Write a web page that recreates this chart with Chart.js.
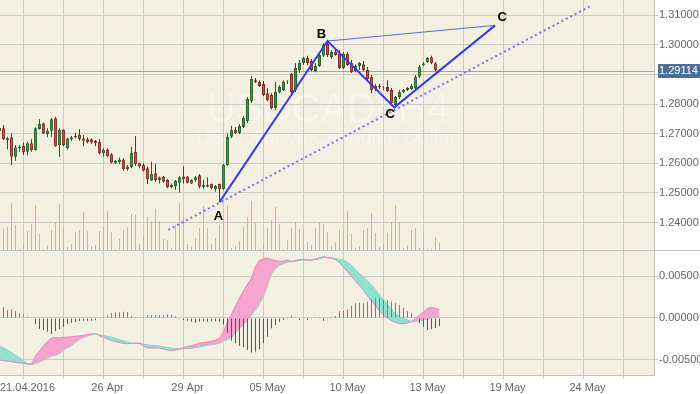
<!DOCTYPE html>
<html lang="en">
<head>
  <meta charset="UTF-8" />
  <title>USDCAD, H4</title>
  <style>
    body { margin: 0; background-color: #ffffff; }
    #wrap { width: 700px; height: 394px; }
  </style>
  <script src="https://cdn.jsdelivr.net/npm/chart.js"></script>
</head>
<body>
  <div id="wrap"><canvas id="chart" width="700" height="394"></canvas></div>

  <script>
    // H4 candles, one per index
    const open = [1.2719,1.2718,1.2679,1.2688,1.2622,1.2652,1.2659,1.2639,1.2668,1.2645,
      1.2716,1.2735,1.2699,1.2710,1.2752,1.2662,1.2713,1.2651,1.2681,1.2688,
      1.2696,1.2684,1.2681,1.2681,1.2676,1.2673,1.2634,1.2647,1.2631,1.2600,
      1.2604,1.2613,1.2580,1.2587,1.2639,1.2600,1.2594,1.2583,1.2541,1.2566,
      1.2544,1.2555,1.2544,1.2519,1.2523,1.2534,1.2555,1.2555,1.2532,1.2544,
      1.2560,1.2519,1.2521,1.2530,1.2512,1.2530,1.2512,1.2594,1.2690,1.2713,
      1.2702,1.2723,1.2743,1.2810,1.2881,1.2875,1.2868,1.2837,1.2831,1.2787,
      1.2841,1.2848,1.2875,1.2902,1.2848,1.2915,1.2939,1.2956,1.2946,1.2912,
      1.2929,1.2963,1.3003,1.2959,1.2976,1.2969,1.2922,1.2969,1.2939,1.2912,
      1.2929,1.2935,1.2915,1.2892,1.2851,1.2861,1.2854,1.2858,1.2848,1.2797,
      1.2824,1.2841,1.2848,1.2851,1.2854,1.2892,1.2932,1.2941,1.2958,1.2938,
      1.2915];
    const high = [1.2729,1.2729,1.2690,1.2701,1.2662,1.2662,1.2670,1.2673,1.2681,1.2722,
      1.2750,1.2737,1.2718,1.2753,1.2757,1.2718,1.2715,1.2686,1.2692,1.2703,
      1.2715,1.2696,1.2688,1.2684,1.2679,1.2681,1.2651,1.2651,1.2634,1.2611,
      1.2620,1.2617,1.2594,1.2656,1.2692,1.2602,1.2600,1.2589,1.2605,1.2598,
      1.2555,1.2557,1.2546,1.2532,1.2544,1.2557,1.2589,1.2557,1.2546,1.2557,
      1.2564,1.2544,1.2553,1.2532,1.2527,1.2532,1.2598,1.2701,1.2726,1.2723,
      1.2733,1.2760,1.2824,1.2895,1.2888,1.2881,1.2878,1.2854,1.2837,1.2875,
      1.2864,1.2881,1.2881,1.2905,1.2939,1.2949,1.2959,1.2963,1.2952,1.2939,
      1.2973,1.3006,1.3013,1.2983,1.2983,1.2983,1.2976,1.2976,1.2949,1.2935,
      1.2942,1.2946,1.2925,1.2898,1.2868,1.2868,1.2861,1.2881,1.2854,1.2827,
      1.2848,1.2851,1.2858,1.2868,1.2898,1.2932,1.2942,1.2959,1.2963,1.2942,
      1.2919];
    const low = [1.2709,1.2679,1.2647,1.2594,1.2609,1.2639,1.2628,1.2626,1.2639,1.2643,
      1.2714,1.2699,1.2688,1.2690,1.2656,1.2622,1.2658,1.2647,1.2676,1.2684,
      1.2676,1.2658,1.2668,1.2665,1.2658,1.2630,1.2622,1.2622,1.2600,1.2598,
      1.2598,1.2575,1.2575,1.2583,1.2591,1.2583,1.2572,1.2530,1.2541,1.2538,
      1.2532,1.2534,1.2516,1.2516,1.2510,1.2501,1.2532,1.2532,1.2530,1.2538,
      1.2516,1.2512,1.2519,1.2512,1.2504,1.2469,1.2510,1.2591,1.2685,1.2699,
      1.2699,1.2719,1.2736,1.2804,1.2871,1.2858,1.2827,1.2810,1.2783,1.2780,
      1.2837,1.2844,1.2868,1.2837,1.2841,1.2905,1.2932,1.2932,1.2912,1.2908,
      1.2925,1.2959,1.2959,1.2952,1.2963,1.2919,1.2919,1.2929,1.2905,1.2908,
      1.2915,1.2912,1.2881,1.2837,1.2844,1.2851,1.2848,1.2841,1.2800,1.2787,
      1.2817,1.2837,1.2844,1.2848,1.2851,1.2888,1.2929,1.2939,1.2935,1.2912,
      1.2908];
    const close = [1.2709,1.2681,1.2685,1.2622,1.2654,1.2656,1.2637,1.2668,1.2645,1.2718,
      1.2733,1.2701,1.2710,1.2749,1.2658,1.2713,1.2662,1.2684,1.2688,1.2692,
      1.2681,1.2676,1.2671,1.2671,1.2668,1.2634,1.2645,1.2625,1.2602,1.2609,
      1.2613,1.2581,1.2589,1.2636,1.2597,1.2589,1.2575,1.2546,1.2564,1.2544,
      1.2553,1.2538,1.2519,1.2527,1.2540,1.2553,1.2546,1.2534,1.2544,1.2553,
      1.2521,1.2527,1.2527,1.2516,1.2523,1.2512,1.2594,1.2690,1.2713,1.2702,
      1.2726,1.2753,1.2817,1.2885,1.2875,1.2861,1.2831,1.2814,1.2787,1.2841,
      1.2858,1.2875,1.2876,1.2841,1.2922,1.2939,1.2956,1.2939,1.2915,1.2929,
      1.2966,1.3000,1.2966,1.2976,1.2966,1.2922,1.2969,1.2932,1.2908,1.2929,
      1.2939,1.2915,1.2885,1.2848,1.2861,1.2858,1.2856,1.2844,1.2804,1.2824,
      1.2841,1.2848,1.2854,1.2861,1.2892,1.2925,1.2937,1.2956,1.2938,1.2915,
      1.29114];
    const volume = [20,22,23,47,25,1,6,19,26,45,16,1,5,20,27,46,22,3,6,18,
      20,38,19,4,5,19,23,39,18,1,11,20,23,36,35,6,15,33,29,41,
      29,11,10,2,25,47,33,6,3,12,22,44,22,6,12,25,32,44,2,4,
      9,23,33,49,27,1,6,22,30,43,26,1,10,22,28,21,21,8,5,22,
      27,26,18,4,8,20,20,39,16,2,4,20,22,37,17,3,6,17,28,45,
      28,2,5,20,22,2,17,1,1,13,7];

    // lower pane
    const macdHist = [0.00131,0.00127,0.00095,0.00104,0.00083,0.00056,0.00044,0.00015,0.00004,-0.00071,
      -0.00131,-0.00143,-0.00163,-0.00190,-0.00155,-0.00135,-0.00104,-0.00071,-0.00056,-0.00044,
      -0.00036,-0.00032,-0.00032,-0.00032,-0.00024,-0.00004,0.00015,0.00032,0.00060,0.00068,
      0.00068,0.00075,0.00071,0.00024,0.00012,0.00008,0.00004,0.00036,0.00036,0.00036,
      0.00036,0.00036,0.00044,0.00036,0.00020,-0.00004,-0.00024,-0.00032,-0.00044,-0.00056,
      -0.00044,-0.00039,-0.00044,-0.00039,-0.00039,-0.00044,-0.00077,-0.00175,-0.00270,-0.00301,
      -0.00333,-0.00349,-0.00381,-0.00413,-0.00401,-0.00373,-0.00301,-0.00223,-0.00123,-0.00083,
      -0.00044,-0.00020,-0.00008,0.00027,0.00004,-0.00024,-0.00004,-0.00024,-0.00004,0.00004,
      -0.00004,-0.00032,-0.00004,0.00004,0.00024,0.00080,0.00083,0.00104,0.00143,0.00175,
      0.00182,0.00175,0.00194,0.00223,0.00235,0.00235,0.00214,0.00214,0.00194,0.00175,
      0.00155,0.00123,0.00083,0.00056,0.00004,-0.00063,-0.00104,-0.00143,-0.00135,-0.00119,
      -0.00095];
    const macdFast = [-0.00500,-0.00506,-0.00514,-0.00521,-0.00529,-0.00536,-0.00539,-0.00548,-0.00551,-0.00452,
      -0.00393,-0.00333,-0.00280,-0.00238,-0.00232,-0.00238,-0.00232,-0.00226,-0.00223,-0.00218,
      -0.00214,-0.00206,-0.00196,-0.00190,-0.00185,-0.00212,-0.00230,-0.00250,-0.00268,-0.00282,
      -0.00295,-0.00302,-0.00307,-0.00304,-0.00298,-0.00301,-0.00333,-0.00357,-0.00357,-0.00357,
      -0.00357,-0.00369,-0.00381,-0.00387,-0.00381,-0.00369,-0.00351,-0.00339,-0.00330,-0.00315,
      -0.00300,-0.00293,-0.00286,-0.00277,-0.00262,-0.00242,-0.00167,-0.00048,0.00042,0.00143,
      0.00238,0.00321,0.00405,0.00476,0.00613,0.00685,0.00702,0.00711,0.00696,0.00685,
      0.00673,0.00679,0.00690,0.00673,0.00685,0.00696,0.00696,0.00690,0.00690,0.00702,
      0.00720,0.00730,0.00720,0.00711,0.00696,0.00661,0.00607,0.00554,0.00494,0.00440,
      0.00387,0.00327,0.00262,0.00202,0.00143,0.00083,0.00036,0.00000,-0.00033,-0.00054,
      -0.00065,-0.00071,-0.00060,-0.00045,-0.00006,0.00032,0.00071,0.00113,0.00127,0.00113,
      0.00101];
    const macdSlow = [-0.00339,-0.00357,-0.00385,-0.00411,-0.00446,-0.00474,-0.00512,-0.00542,-0.00554,-0.00542,
      -0.00524,-0.00500,-0.00476,-0.00452,-0.00440,-0.00420,-0.00381,-0.00351,-0.00327,-0.00286,
      -0.00254,-0.00232,-0.00211,-0.00199,-0.00188,-0.00202,-0.00211,-0.00220,-0.00231,-0.00245,
      -0.00260,-0.00274,-0.00289,-0.00300,-0.00304,-0.00301,-0.00312,-0.00321,-0.00327,-0.00330,
      -0.00333,-0.00342,-0.00351,-0.00360,-0.00364,-0.00369,-0.00367,-0.00365,-0.00362,-0.00352,
      -0.00343,-0.00333,-0.00325,-0.00318,-0.00310,-0.00300,-0.00274,-0.00250,-0.00232,-0.00179,
      -0.00125,-0.00077,-0.00024,0.00030,0.00095,0.00173,0.00262,0.00387,0.00530,0.00589,
      0.00627,0.00649,0.00667,0.00670,0.00679,0.00688,0.00690,0.00690,0.00690,0.00696,
      0.00708,0.00720,0.00720,0.00714,0.00708,0.00699,0.00690,0.00663,0.00625,0.00577,
      0.00530,0.00488,0.00440,0.00393,0.00333,0.00274,0.00214,0.00161,0.00101,0.00054,
      0.00018,-0.00004,-0.00024,-0.00042,-0.00038,-0.00033,-0.00024,-0.00012,0.00000,0.00010,
      0.00014];

    // axis ticks
    const dayTicks = [6,16,26,36,46,56,66,76,86,96,106,116,126,136,146,156];
    const dayLabels = ['21.04.2016','','26 Apr','','29 Apr','','05 May','','10 May','','13 May','','19 May','','24 May',''];
    const priceTicks = [1.24,1.25,1.26,1.27,1.28,1.29,1.30,1.31];
    const macdTicks = [-0.005,0,0.005];

    // drawn pattern A-B-C-C and the trend line under it
    const patternNames = ['A','B','C','C'];
    const patternX = [55, 82, 98.7, 123.9];
    const patternY = [1.2469, 1.3013, 1.2789, 1.3066];
    const trendX = [42.2, 147.7];
    const trendY = [1.2375, 1.3131];

    const symbolName = 'USDCAD, H4';
    const symbolDesc = 'US Dollar vs Canadian Dollar';
    const lastPrice = close[close.length - 1];

    const FONT = '"Liberation Sans", Arial, sans-serif';
    const upFill = '#3f9c45', upEdge = '#1d5e22';
    const downFill = '#d4574c', downEdge = '#7d2019';
    const gridColor = '#cbcbc8';
    const labelOffsets = [[-1, 14], [-6, -7], [-4, 7], [7, -8]];

    const isUp = i => close[i] >= open[i];
    const pts = arr => arr.map((v, i) => ({ x: i, y: v }));

    function noPad(scale) {
      scale.paddingTop = 0; scale.paddingBottom = 0;
      scale.paddingLeft = 0; scale.paddingRight = 0;
    }

    const decor = {
      id: 'decor',
      beforeDraw(chart) {
        const { ctx, chartArea: a } = chart;
        ctx.save();
        ctx.fillStyle = '#f3f0e1';
        ctx.fillRect(a.left, a.top, a.right - a.left, a.bottom - a.top);
        ctx.fillStyle = 'rgba(255,255,255,0.38)';
        ctx.textAlign = 'center';
        ctx.textBaseline = 'alphabetic';
        ctx.font = '40px "Liberation Sans", Arial, sans-serif';
        ctx.fillText(symbolName, 328, 122);
        ctx.font = '20px "Liberation Sans", Arial, sans-serif';
        ctx.fillText(symbolDesc, 326, 144);
        ctx.restore();
      },
      beforeDatasetsDraw(chart) {
        const { ctx, chartArea: a, scales } = chart;
        const y = Math.round(scales.y.getPixelForValue(lastPrice)) + 0.5;
        ctx.save();
        ctx.strokeStyle = '#9aa6b4';
        ctx.lineWidth = 1;
        ctx.beginPath();
        ctx.moveTo(a.left, y); ctx.lineTo(a.right, y);
        ctx.stroke();
        ctx.restore();
      },
      afterDraw(chart) {
        const { ctx, scales } = chart;
        ctx.save();
        // pane separator
        const sep = Math.round(scales.m.top) + 0.5;
        ctx.strokeStyle = '#c4c4c4';
        ctx.lineWidth = 1;
        ctx.beginPath();
        ctx.moveTo(0, sep); ctx.lineTo(chart.width, sep);
        ctx.stroke();

        // current price tag
        const py = Math.round(scales.y.getPixelForValue(lastPrice));
        ctx.fillStyle = '#4a7099';
        ctx.fillRect(scales.y.left + 4, py - 7, chart.width - scales.y.left - 4, 14);
        ctx.fillStyle = '#ffffff';
        ctx.font = '11px ' + FONT;
        ctx.textAlign = 'left';
        ctx.textBaseline = 'middle';
        ctx.fillText(lastPrice.toFixed(5), scales.y.left + 5, py);

        // pattern point names
        ctx.fillStyle = '#000000';
        ctx.font = 'bold 13px "Liberation Sans", Arial, sans-serif';
        ctx.textAlign = 'center';
        patternNames.forEach((name, i) => {
          const x = scales.x.getPixelForValue(patternX[i]) + labelOffsets[i][0];
          const y = scales.y.getPixelForValue(patternY[i]) + labelOffsets[i][1];
          ctx.fillText(name, x, y);
        });
        ctx.restore();
      }
    };

    const ctx = document.getElementById('chart').getContext('2d');
    const chart = new Chart(ctx, {
      type: 'line',
      data: {
        datasets: [
          {
            label: 'MACD fast', data: pts(macdFast), yAxisID: 'm',
            borderColor: '#ef7fbf', borderWidth: 1, pointRadius: 0,
            fill: { target: 1, above: '#f4a4cd', below: '#8fe2cb' }, order: 5
          },
          {
            label: 'MACD slow', data: pts(macdSlow), yAxisID: 'm',
            borderColor: '#5fd6bd', borderWidth: 1, pointRadius: 0, fill: false, order: 6
          },
          {
            type: 'bar', label: 'Histogram', data: pts(macdHist), yAxisID: 'm',
            grouped: false, maxBarThickness: 1, inflateAmount: 0,
            backgroundColor: c => (macdHist[c.dataIndex] >= 0 ? '#5e9c2b' : '#555555'), order: 4
          },
          {
            type: 'bar', label: 'Volume', data: pts(volume), yAxisID: 'v',
            grouped: false, maxBarThickness: 1, inflateAmount: 0,
            backgroundColor: '#8cc6e4', order: 7
          },
          {
            type: 'bar', label: 'Wicks', yAxisID: 'y',
            data: low.map((l, i) => ({ x: i, y: [l, high[i]] })),
            grouped: false, maxBarThickness: 1, inflateAmount: 0,
            backgroundColor: c => (isUp(c.dataIndex) ? upEdge : downEdge), order: 3
          },
          {
            type: 'bar', label: 'Bodies', yAxisID: 'y',
            data: open.map((o, i) => ({ x: i, y: [o, close[i]] })),
            grouped: false, maxBarThickness: 3, inflateAmount: 0,
            borderWidth: 1, borderSkipped: false,
            backgroundColor: c => (isUp(c.dataIndex) ? upFill : downFill),
            borderColor: c => (isUp(c.dataIndex) ? upEdge : downEdge), order: 2
          },
          {
            label: 'ABC', yAxisID: 'y',
            data: patternX.map((x, i) => ({ x: x, y: patternY[i] })),
            borderColor: '#3b3be4', borderWidth: 2, pointRadius: 0, fill: false, order: 0
          },
          {
            label: 'BC', yAxisID: 'y',
            data: [{ x: patternX[1], y: patternY[1] }, { x: patternX[3], y: patternY[3] }],
            borderColor: '#5b6ee6', borderWidth: 1, pointRadius: 0, fill: false, order: 1
          },
          {
            label: 'Trend', yAxisID: 'y',
            data: trendX.map((x, i) => ({ x: x, y: trendY[i] })),
            borderColor: '#7f6cf0', borderWidth: 2, borderDash: [2, 3],
            pointRadius: 0, fill: false, order: 0
          }
        ]
      },
      options: {
        responsive: false,
        animation: false,
        events: [],
        layout: { padding: 0 },
        plugins: { legend: { display: false }, tooltip: { enabled: false } },
        scales: {
          x: {
            type: 'linear', position: 'bottom', min: 0.125, max: 163.625, offset: false,
            grid: { color: gridColor, offset: false, tickLength: 4, tickColor: '#c4c4c4' },
            border: { color: '#c4c4c4' },
            ticks: {
              autoSkip: false, maxRotation: 0, padding: 2, labelOffset: 4, color: '#666666',
              font: { family: FONT, size: 11 },
              callback: (v, i) => dayLabels[i]
            },
            afterBuildTicks: s => { s.ticks = dayTicks.map(v => ({ value: v })); },
            afterFit: s => { s.height = 19; noPad(s); }
          },
          y: {
            type: 'linear', position: 'right', stack: 'panes', stackWeight: 2,
            min: 1.23071, max: 1.31517,
            grid: { color: gridColor, tickLength: 4, tickColor: '#c4c4c4' },
            border: { color: '#c4c4c4' },
            ticks: {
              padding: 1, color: '#666666', font: { family: FONT, size: 11 },
              callback: v => v.toFixed(5)
            },
            afterBuildTicks: s => { s.ticks = priceTicks.map(v => ({ value: v })); },
            afterFit: s => { s.width = 46; noPad(s); }
          },
          m: {
            type: 'linear', position: 'right', stack: 'panes', stackWeight: 1,
            min: -0.00679, max: 0.0081,
            grid: { color: gridColor, tickLength: 4, tickColor: '#c4c4c4' },
            border: { color: '#c4c4c4' },
            ticks: {
              padding: 1, color: '#666666', font: { family: FONT, size: 11 },
              callback: v => v.toFixed(5)
            },
            afterBuildTicks: s => { s.ticks = macdTicks.map(v => ({ value: v })); },
            afterFit: s => { s.width = 46; noPad(s); }
          },
          v: { type: 'linear', display: false, position: 'left', min: -125, max: 250 }
        }
      },
      plugins: [decor]
    });
  </script>
</body>
</html>
